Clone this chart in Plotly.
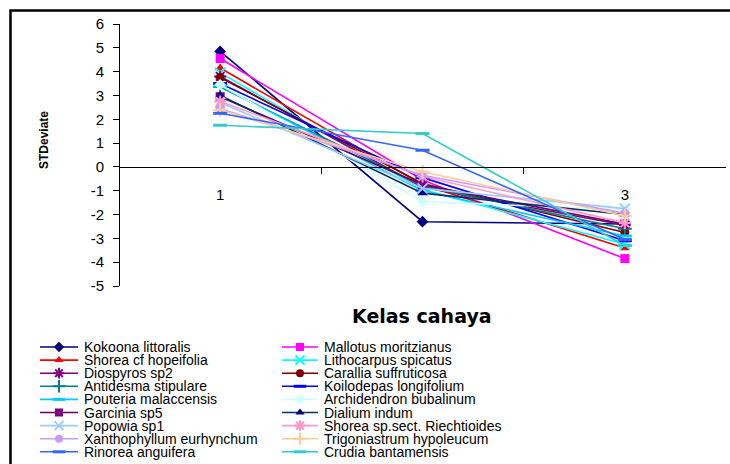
import plotly.graph_objects as go

# ---------------- data ----------------
classes = [1, 2, 3]
class_tick_vals = [1, 3]
class_tick_text = ["1", "3"]

species = [
    "Kokoona littoralis", "Mallotus moritzianus",
    "Shorea cf hopeifolia", "Lithocarpus spicatus",
    "Diospyros sp2", "Carallia suffruticosa",
    "Antidesma stipulare", "Koilodepas longifolium",
    "Pouteria malaccensis", "Archidendron bubalinum",
    "Garcinia sp5", "Dialium indum",
    "Popowia sp1", "Shorea sp.sect. Riechtioides",
    "Xanthophyllum eurhynchum", "Trigoniastrum hypoleucum",
    "Rinorea anguifera", "Crudia bantamensis",
]
kelas1 = [4.85, 4.55, 4.15, 3.95, 3.8, 3.75, 3.35, 3.5, 3.4, 3.45, 2.95, 3.0, 2.7, 2.75, 2.45, 2.4, 2.25, 1.75]
kelas2 = [-2.3, -0.55, -0.75, -0.95, -0.85, -0.7, -0.8, -0.45, -1.0, -1.45, -0.75, -1.1, -0.9, -0.4, -0.35, -0.2, 0.7, 1.4]
kelas3 = [-2.4, -3.85, -3.4, -3.25, -2.45, -2.75, -2.6, -3.1, -2.9, -1.8, -2.4, -2.0, -1.75, -2.35, -1.95, -2.05, -3.05, -3.3]
y_ticks = list(range(-5, 7))

# ---------------- styles ----------------
line_colors = ["#000080", "#FF00FF", "#FF0000", "#00FFFF", "#800080", "#800000",
               "#008080", "#0000FF", "#00CCFF", "#CCFFFF", "#660066", "#003366",
               "#99CCFF", "#FF99CC", "#CC99FF", "#FFCC99", "#3366FF", "#33CCCC"]
marker_colors = ["#000080", "#FF00FF", "#FF0000", "#00FFFF", "#800080", "#800000",
                 "#008080", "#0000FF", "#00CCFF", "#CCFFFF", "#800080", "#000080",
                 "#99CCFF", "#FF99CC", "#CC99FF", "#FFCC99", "#3366FF", "#33CCCC"]
symbols = ["diamond", "square", "triangle-up", "x-thin-open", "asterisk-open", "circle",
           "cross-thin-open", "line-ew-open", "line-ew-open",
           "diamond", "square", "triangle-up", "x-thin-open", "asterisk-open", "circle",
           "cross-thin-open", "line-ew-open", "line-ew-open"]
open_sym = {"x-thin-open", "asterisk-open", "cross-thin-open", "line-ew-open"}

W, H = 730, 464
FONT = "Liberation Sans, Arial, sans-serif"

# plot area in pixels
PL, PR, PT, PB = 119, 726, 24, 286
y_min, y_max = -5, 6
dom_x = [PL / W, PR / W]
dom_y = [1 - PB / H, 1 - PT / H]
zero_pos = dom_y[0] + (0 - y_min) / (y_max - y_min) * (dom_y[1] - dom_y[0])

fig = go.Figure()

def mk(i, size):
    s = symbols[i]
    if s in open_sym:
        lw = 3 if s == "line-ew-open" else 2
        return dict(symbol=s, size=size + 1, color=marker_colors[i],
                    line=dict(color=marker_colors[i], width=lw))
    return dict(symbol=s, size=size, color=marker_colors[i], line=dict(width=0))

for i, name in enumerate(species):
    fig.add_trace(go.Scatter(
        x=classes, y=[kelas1[i], kelas2[i], kelas3[i]],
        mode="lines+markers", name=name, showlegend=False,
        line=dict(color=line_colors[i], width=1.6),
        marker=mk(i, 9), xaxis="x", yaxis="y",
    ))

# ---------------- custom compact legend (pixel coordinate overlay) ----------------
row0, row_step = 347, 13.1
col_line = [(40, 78), (282, 318)]
col_text = [82, 322]
annotations = []
for i, name in enumerate(species):
    r, c = divmod(i, 2)
    yy = row0 + r * row_step
    x0, x1 = col_line[c]
    fig.add_trace(go.Scatter(
        x=[x0, x1], y=[yy, yy], mode="lines", showlegend=False, hoverinfo="skip",
        line=dict(color=line_colors[i], width=1.6), xaxis="x2", yaxis="y2",
    ))
    fig.add_trace(go.Scatter(
        x=[(x0 + x1) / 2], y=[yy], mode="markers", showlegend=False, hoverinfo="skip",
        marker=mk(i, 8), xaxis="x2", yaxis="y2",
    ))
    annotations.append(dict(
        x=col_text[c], y=yy, xref="x2", yref="y2", text=name, showarrow=False,
        xanchor="left", yanchor="middle", font=dict(family=FONT, size=14, color="black"),
    ))

# axis titles
annotations.append(dict(x=421.5, y=316, xref="x2", yref="y2", text="<b>Kelas cahaya</b>",
                        showarrow=False, xanchor="center", yanchor="middle",
                        font=dict(family="DejaVu Sans, sans-serif", size=19, color="black")))
annotations.append(dict(x=44, y=140, xref="x2", yref="y2", text="<b>STDeviate</b>",
                        showarrow=False, textangle=-90, xanchor="center", yanchor="middle",
                        font=dict(family=FONT, size=12, color="black")))

fig.update_layout(
    template="none",
    width=W, height=H, margin=dict(l=0, r=0, t=0, b=0, pad=0, autoexpand=False),
    paper_bgcolor="white", plot_bgcolor="rgba(0,0,0,0)",
    showlegend=False,
    xaxis=dict(domain=dom_x, range=[0.5, 3.5], anchor="free", position=zero_pos,
               automargin=False,
               showline=True, linecolor="black", linewidth=1, showgrid=False, zeroline=False,
               tickmode="array", tickvals=class_tick_vals, ticktext=class_tick_text, ticks="",
               ticklabelstandoff=14,
               tickfont=dict(family=FONT, size=15, color="black"),
               minor=dict(tickmode="array", tickvals=[1.5, 2.5], ticks="outside",
                          ticklen=6, tickcolor="black", tickwidth=1, showgrid=False)),
    yaxis=dict(domain=dom_y, range=[y_min, y_max], anchor="free", position=dom_x[0],
               automargin=False,
               showline=True, linecolor="black", linewidth=1, showgrid=False, zeroline=False,
               tickmode="array", tickvals=y_ticks, ticktext=[str(v) for v in y_ticks],
               ticks="outside", ticklen=6, tickcolor="black", ticklabelstandoff=6,
               tickfont=dict(family=FONT, size=15, color="black")),
    xaxis2=dict(domain=[0, 1], range=[0, W], visible=False, anchor="y2", automargin=False),
    yaxis2=dict(domain=[0, 1], range=[H, 0], visible=False, anchor="x2", automargin=False),
    annotations=annotations,
    shapes=[dict(type="path", path="M 10.5 464 L 10.5 10.5 L 730 10.5",
                 xref="x2", yref="y2", line=dict(color="black", width=2.5))],
)

fig.write_html("out.html")
